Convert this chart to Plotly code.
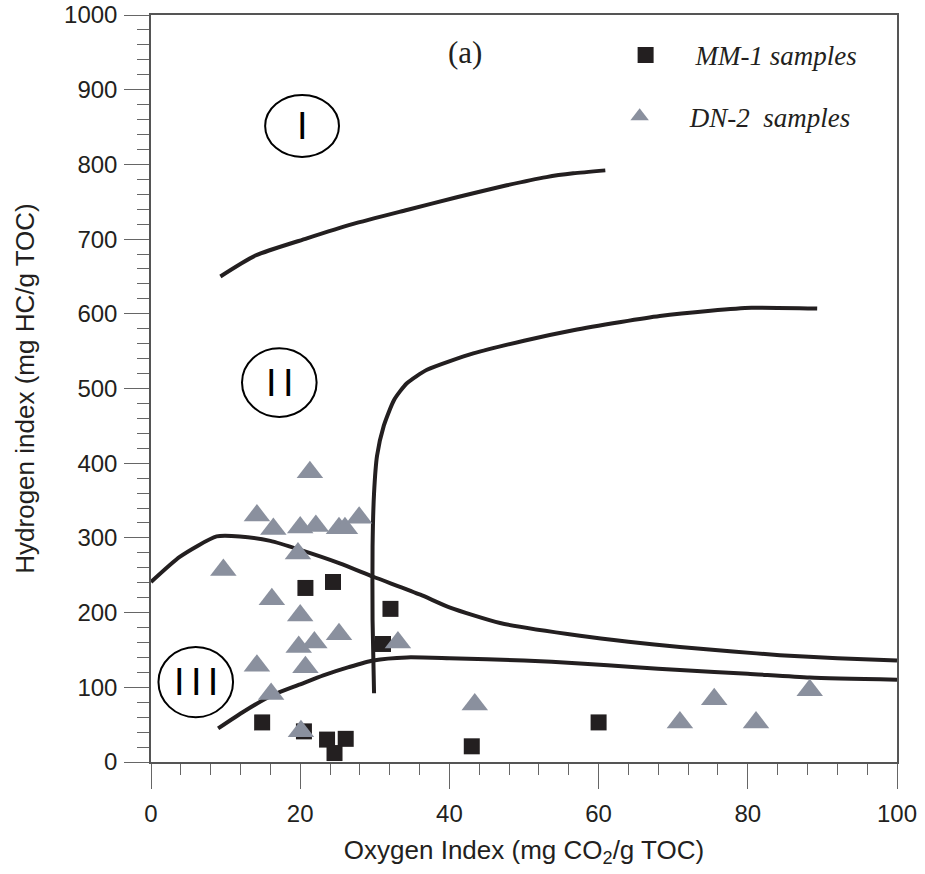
import plotly.graph_objects as go

# ---- data ----
mm1_oi = [14.9, 20.5, 20.7, 24.4, 23.6, 26.1, 24.6, 32.1, 31.1, 43.0, 60.0]
mm1_hi = [53, 41, 233, 241, 30, 31, 12, 205, 158, 21, 53]

dn2_oi = [21.3, 14.2, 16.4, 20.0, 22.1, 25.2, 26.0, 27.9, 19.7, 9.7, 16.2, 20.0, 25.2,
          21.9, 19.8, 33.1, 20.7, 14.2, 16.1, 20.1, 43.4, 70.9, 75.5, 81.1, 88.3]
dn2_hi = [388, 330, 312, 314, 316, 313, 313, 327, 279, 257, 218, 196, 171,
          160, 154, 160, 127, 129, 91, 41, 77, 53, 84, 53, 96]

# kerogen type boundary curves
type1_oi = [9.3, 14, 20.9, 27, 34.3, 41, 47.7, 53, 56.6, 60.9]
type1_hi = [650, 678, 701, 720, 739, 756, 772, 783, 788, 792]

type2_oi = [29.9, 29.7, 29.7, 29.9, 30.3, 31.2, 32.6, 34.3, 37, 43.2, 50, 56.6, 63, 68.2, 75, 80.5, 89.3]
type2_hi = [92, 190, 288, 360, 410, 450, 485, 507, 525, 547, 564, 578, 589, 597, 604, 608, 607]

upper3_oi = [0, 3.9, 8.8, 11.9, 16, 20, 25.3, 29.8, 36.1, 40, 46.8, 57.5, 64, 70.9, 78, 84.3, 92, 100]
upper3_hi = [241, 275, 302, 302, 296, 284, 266, 248, 224, 207, 186, 169, 161, 154, 148, 143, 139, 136]

lower3_oi = [9, 12.5, 16.4, 20, 23.1, 26.5, 29.8, 34.3, 40, 50, 57.5, 65, 70.9, 80, 88.3, 100]
lower3_hi = [45, 68, 90, 104, 116, 127, 136, 140, 139, 136, 132, 127, 123, 118, 113, 110]

x_ticks = [0, 20, 40, 60, 80, 100]
y_ticks = [0, 100, 200, 300, 400, 500, 600, 700, 800, 900, 1000]

# region labels: (text, x0, x1, y0, y1)
HS = "\u200a\u200a"
regions = [("I", 15.3, 25.2, 810, 893),
           ("I" + HS + "I", 12.2, 22.2, 462, 554),
           ("I" + HS + "I" + HS + "I", 1.0, 11.0, 60, 154)]

INK = "#231f20"
TRI = "#8a909e"
SANS = "Liberation Sans, Arial, sans-serif"
SERIF = "Liberation Serif, Times New Roman, serif"

fig = go.Figure()

for xs, ys in [(type1_oi, type1_hi), (type2_oi, type2_hi),
               (upper3_oi, upper3_hi), (lower3_oi, lower3_hi)]:
    fig.add_trace(go.Scatter(x=xs, y=ys, mode="lines", showlegend=False,
                             line=dict(color=INK, width=4, shape="spline", smoothing=0.6),
                             hoverinfo="skip"))

fig.add_trace(go.Scatter(x=mm1_oi, y=mm1_hi, mode="markers", name="MM-1 samples",
                         marker=dict(symbol="square", size=16, color=INK),
                         legend="legend", cliponaxis=False))
fig.add_trace(go.Scatter(x=dn2_oi, y=dn2_hi, mode="markers", name="DN-2\u00a0\u00a0samples",
                         marker=dict(symbol="triangle-up", size=23, color=TRI),
                         legend="legend2", cliponaxis=False))

shapes = []
annotations = []
for txt, x0, x1, y0, y1 in regions:
    shapes.append(dict(type="circle", xref="x", yref="y", x0=x0, x1=x1, y0=y0, y1=y1,
                       line=dict(color="black", width=2)))
    annotations.append(dict(x=(x0 + x1) / 2, y=(y0 + y1) / 2, xref="x", yref="y",
                            text=txt, showarrow=False,
                            font=dict(family=SANS, size=38, color="black")))

annotations.append(dict(x=0.421, y=950, xref="paper", yref="y", text="(a)", showarrow=False,
                        font=dict(family=SERIF, size=31, color=INK)))

legend_common = dict(bgcolor="rgba(0,0,0,0)", itemwidth=90, itemsizing="trace",
                     xanchor="left", yanchor="middle",
                     font=dict(family=SERIF, size=27, color=INK, style="italic"))

fig.update_layout(
    width=925, height=874,
    margin=dict(l=151, r=28, t=15, b=112),
    paper_bgcolor="white", plot_bgcolor="white",
    shapes=shapes, annotations=annotations,
    legend=dict(x=0.596, y=0.946, **legend_common),
    legend2=dict(x=0.588, y=0.864, **legend_common),
    xaxis=dict(range=[0, 100], tickvals=x_ticks, ticks="outside", ticklen=25,
               tickcolor="#666", tickwidth=1, showline=True, linecolor="#555",
               linewidth=1.5, mirror=True, showgrid=False, zeroline=False,
               automargin=False, ticklabelstandoff=4, ticklabeloverflow="allow",
               minor=dict(dtick=4, ticklen=11, ticks="outside", tickcolor="#666", tickwidth=1),
               tickfont=dict(family=SANS, size=24, color=INK),
               title=dict(text="Oxygen Index (mg CO<sub>2</sub>/g TOC)",
                          font=dict(family=SANS, size=26, color=INK), standoff=15)),
    yaxis=dict(range=[0, 1000], tickvals=y_ticks, ticks="outside", ticklen=25,
               tickcolor="#666", tickwidth=1, showline=True, linecolor="#555",
               linewidth=1.5, mirror=True, showgrid=False, zeroline=False,
               automargin=False, ticklabelstandoff=2, ticklabeloverflow="allow",
               minor=dict(dtick=20, ticklen=12, ticks="outside", tickcolor="#666", tickwidth=1),
               tickfont=dict(family=SANS, size=24, color=INK),
               title=dict(text="Hydrogen index (mg HC/g TOC)",
                          font=dict(family=SANS, size=26, color=INK), standoff=22)),
)

# remove the browser's default 8px page margin so the figure sits at the window origin
fig.write_html("out.html", config={"displayModeBar": False},
               post_script="document.body.style.margin='0';")
